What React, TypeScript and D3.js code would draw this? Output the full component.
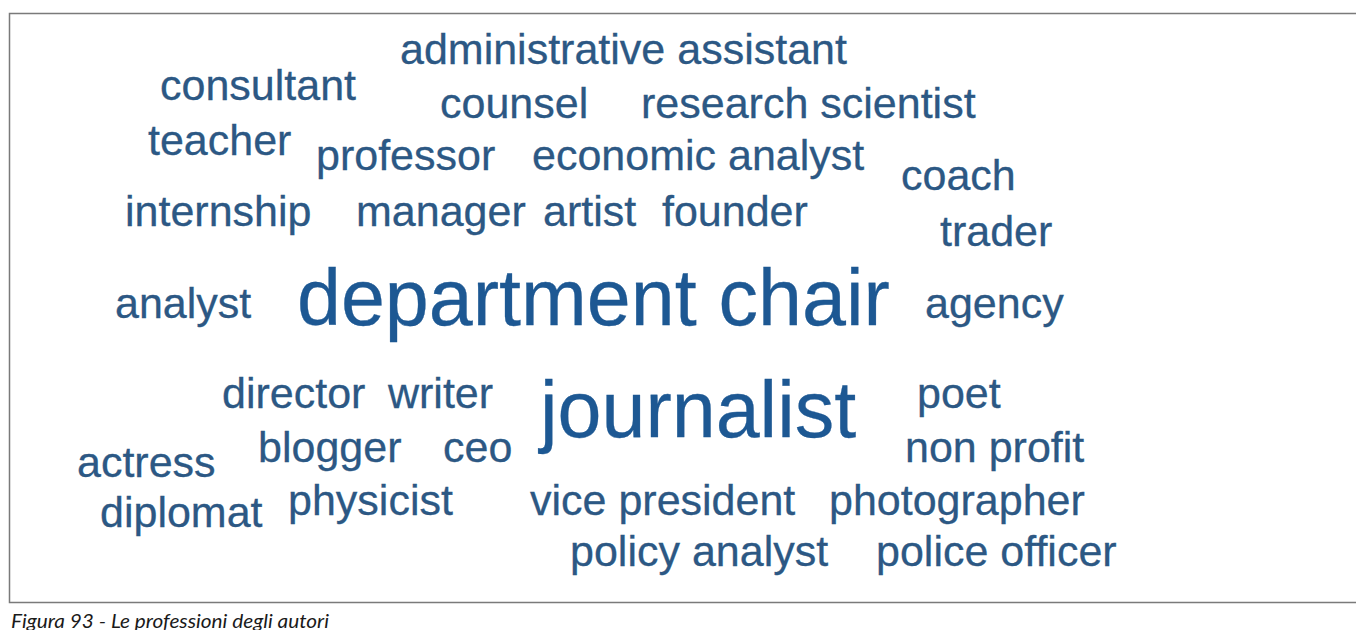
import React from "react";
import * as d3 from "d3";

// Word cloud data: professions and their relative weight
const words = [
  "administrative assistant",
  "consultant",
  "counsel",
  "research scientist",
  "teacher",
  "professor",
  "economic analyst",
  "coach",
  "internship",
  "manager",
  "artist",
  "founder",
  "trader",
  "analyst",
  "department chair",
  "agency",
  "director",
  "writer",
  "journalist",
  "poet",
  "blogger",
  "ceo",
  "non profit",
  "actress",
  "physicist",
  "diplomat",
  "vice president",
  "photographer",
  "policy analyst",
  "police officer",
];

const weights = [
  1, 1, 1, 1, 1, 1, 1, 1, 1, 1, 1, 1, 1, 1, 2, 1, 1, 1, 2, 1, 1, 1, 1, 1, 1, 1, 1, 1, 1, 1,
];

// Layout of the cloud (left edge and baseline of each word, in cloud units)
const layoutX = [
  400, 160, 440, 641, 148, 316, 532, 901, 125, 356, 543, 662, 940, 115, 297, 925, 222, 388, 540, 917,
  258, 443, 905, 77, 288, 100, 530, 829, 570, 876,
];
const layoutY = [
  64, 100, 118, 118, 155, 170, 170, 190, 226, 226, 226, 226, 246, 318, 325, 318, 408, 408, 437, 408,
  462, 462, 462, 477, 515, 527, 515, 515, 566, 566,
];

const caption = "Figura 93 -  Le professioni degli autori";

const W = 1356;
const H = 630;

export default function App() {
  const x = d3.scaleLinear().domain([0, 1356]).range([0, W]);
  const y = d3.scaleLinear().domain([0, 630]).range([0, H]);
  const size = d3.scaleLinear().domain([1, 2]).range([43, 79]);
  const color = d3.scaleOrdinal<number, string>().domain([1, 2]).range(["#2c5884", "#1d5893"]);

  const items = words.map((w, i) => ({
    text: w,
    weight: weights[i],
    x: x(layoutX[i]),
    y: y(layoutY[i]),
  }));

  return (
    <svg
      width={W}
      height={H}
      style={{ position: "absolute", left: 0, top: 0, background: "#ffffff" }}
    >
      <rect x={0} y={0} width={W} height={H} fill="#ffffff" />
      <path
        d={`M${W + 5},13.5 H9.5 V602.5 H${W + 5}`}
        fill="none"
        stroke="#7a7a7a"
        strokeWidth={1.5}
      />
      <g fontFamily="'Liberation Sans', Arial, sans-serif">
        {items.map((d) => (
          <text
            key={d.text}
            x={d.x}
            y={d.y}
            fontSize={size(d.weight)}
            fill={color(d.weight)}
            stroke={color(d.weight)}
            strokeWidth={0.3}
          >
            {d.text}
          </text>
        ))}
      </g>
      <text
        x={11}
        y={628}
        fontFamily="Lato, 'Open Sans', sans-serif"
        fontStyle="italic"
        fontSize={19}
        fill="#1a1a1a"
        textLength={318}
        lengthAdjust="spacingAndGlyphs"
      >
        {caption}
      </text>
    </svg>
  );
}
